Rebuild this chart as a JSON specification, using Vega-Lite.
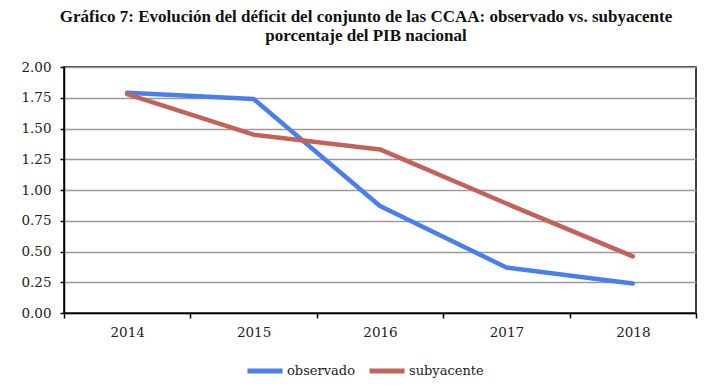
{
  "$schema": "https://vega.github.io/schema/vega-lite/v6.json",
  "width": 632,
  "height": 246,
  "autosize": {"type": "none"},
  "padding": {"left": 64, "top": 67, "right": 23, "bottom": 73},
  "background": "white",
  "title": {
    "text": ["Gráfico 7: Evolución del déficit del conjunto de las CCAA: observado vs. subyacente", "porcentaje del PIB nacional"],
    "font": "Liberation Serif",
    "fontSize": 17,
    "fontWeight": "bold",
    "color": "#111111",
    "lineHeight": 19,
    "anchor": "middle",
    "dx": -14,
    "offset": 15
  },
  "config": {
    "view": {"stroke": "#000000", "strokeWidth": 1.5},
    "font": "DejaVu Serif"
  },
  "data": {
    "values": [
      {"year": "2014", "serie": "observado", "value": 1.79},
      {"year": "2015", "serie": "observado", "value": 1.74},
      {"year": "2016", "serie": "observado", "value": 0.87},
      {"year": "2017", "serie": "observado", "value": 0.37},
      {"year": "2018", "serie": "observado", "value": 0.24},
      {"year": "2014", "serie": "subyacente", "value": 1.78},
      {"year": "2015", "serie": "subyacente", "value": 1.45},
      {"year": "2016", "serie": "subyacente", "value": 1.33},
      {"year": "2017", "serie": "subyacente", "value": 0.89},
      {"year": "2018", "serie": "subyacente", "value": 0.46}
    ]
  },
  "mark": {"type": "line", "strokeWidth": 4.5, "strokeCap": "round", "strokeJoin": "round"},
  "encoding": {
    "x": {
      "field": "year",
      "type": "ordinal",
      "bandPosition": 0.5,
      "scale": {"type": "band", "paddingInner": 0, "paddingOuter": 0},
      "axis": {
        "title": null,
        "labelAngle": 0,
        "labelFont": "DejaVu Serif",
        "labelFontSize": 13.5,
        "labelColor": "#222222",
        "labelPadding": 7,
        "tickBand": "extent",
        "tickSize": 5,
        "tickColor": "#000000",
        "tickWidth": 1.5,
        "domainColor": "#000000",
        "domainWidth": 1.5,
        "grid": false
      }
    },
    "y": {
      "field": "value",
      "type": "quantitative",
      "scale": {"domain": [0, 2]},
      "axis": {
        "title": null,
        "values": [0, 0.25, 0.5, 0.75, 1, 1.25, 1.5, 1.75, 2],
        "format": ".2f",
        "labelFont": "DejaVu Serif",
        "labelFontSize": 13.5,
        "labelColor": "#222222",
        "labelPadding": 9,
        "tickSize": 4,
        "tickColor": "#000000",
        "tickWidth": 1.5,
        "domainColor": "#000000",
        "domainWidth": 1.5,
        "grid": true,
        "gridColor": "#9a9a9a",
        "gridWidth": 1.5
      }
    },
    "color": {
      "field": "serie",
      "type": "nominal",
      "scale": {"domain": ["observado", "subyacente"], "range": ["#4a7eec", "#c1635a"]},
      "legend": {
        "title": null,
        "orient": "none",
        "direction": "horizontal",
        "legendX": 181,
        "legendY": 284,
        "symbolType": "stroke",
        "symbolSize": 1225,
        "symbolStrokeWidth": 5,
        "labelFont": "DejaVu Serif",
        "labelFontSize": 13,
        "labelColor": "#222222",
        "labelOffset": 2,
        "columnPadding": 4
      }
    }
  }
}
